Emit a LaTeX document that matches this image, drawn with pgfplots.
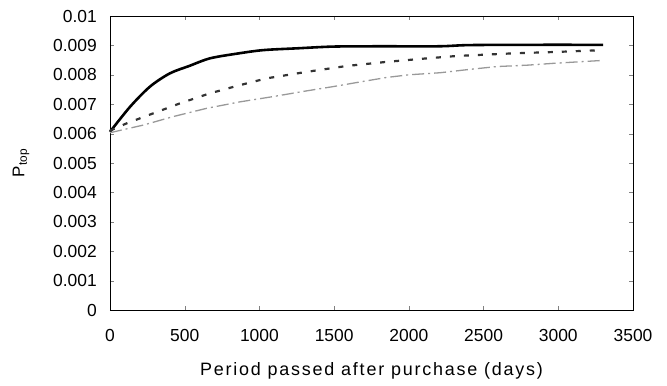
\documentclass[border=0pt]{standalone}
\usepackage{pgfplots}
\pgfplotsset{compat=1.18}
\usepackage{fontspec}
\setmainfont{Liberation Sans}
\newfontfamily\lsp{Liberation Sans}[LetterSpace=10]
\begin{document}
\begin{tikzpicture}[x=1bp,y=1bp]
\path[use as bounding box] (-110,-75) rectangle (557,310);
\begin{axis}[
  scale only axis, width=523bp, height=294bp,
  at={(0,0)}, anchor=south west,
  xmin=0, xmax=3500, ymin=0, ymax=0.01,
  xtick={0,500,...,3500}, ytick={0,0.001,...,0.0101},
  scaled y ticks=false, scaled x ticks=false,
  /pgf/number format/assume math mode=true,
  xticklabel style={anchor=center, inner sep=0pt, yshift=-25bp, /pgf/number format/.cd, fixed, 1000 sep={}},
  yticklabel style={anchor=east, inner sep=0pt, xshift=-13bp, /pgf/number format/.cd, fixed, precision=3},
  tick label style={font=\fontsize{17.5}{17.5}\selectfont},
  tick align=inside, major tick length=4bp,
  axis line style={line width=0.6pt},
  xlabel={\lsp Period passed after purchase (days)},
  ylabel={P\textsubscript{top}},
  xlabel style={at={(axis description cs:0.5,-0.208)}, anchor=center, inner sep=0pt, font=\fontsize{18}{18}\selectfont},
  ylabel style={at={(axis description cs:-0.17,0.5)}, anchor=center, inner sep=0pt, font=\fontsize{17}{17}\selectfont},
  clip=false,
]
\addplot[black, line width=2.6pt, smooth] coordinates {
(0,0.00606) (134,0.00691) (268,0.0076) (401,0.00805) (530,0.0083) (669,0.00856) (850,0.00872) (1026,0.00884) (1250,0.0089) (1495,0.00896) (1800,0.00897) (2200,0.00897) (2400,0.00901) (2800,0.00902) (3300,0.00902)};
\addplot[black!80, line width=2.2pt, dash pattern=on 5bp off 9bp] coordinates {
(0,0.0061) (112,0.00635) (290,0.00669) (469,0.00703) (669,0.00737) (848,0.00762) (1049,0.00788) (1316,0.0081) (1584,0.0083) (1852,0.00844) (2100,0.00855) (2320,0.00864) (2700,0.00873) (3000,0.00878) (3300,0.00884)};
\addplot[black!40, line width=1.3pt, dash pattern=on 12bp off 4bp on 2bp off 4bp] coordinates {
(0,0.00603) (223,0.00629) (424,0.00658) (647,0.00686) (870,0.00708) (1093,0.00726) (1300,0.00744) (1495,0.0076) (1700,0.00778) (1852,0.00791) (2000,0.008) (2209,0.00807) (2400,0.00818) (2588,0.00828) (2800,0.00833) (2967,0.00839) (3300,0.00849)};
\end{axis}
\end{tikzpicture}
\end{document}
